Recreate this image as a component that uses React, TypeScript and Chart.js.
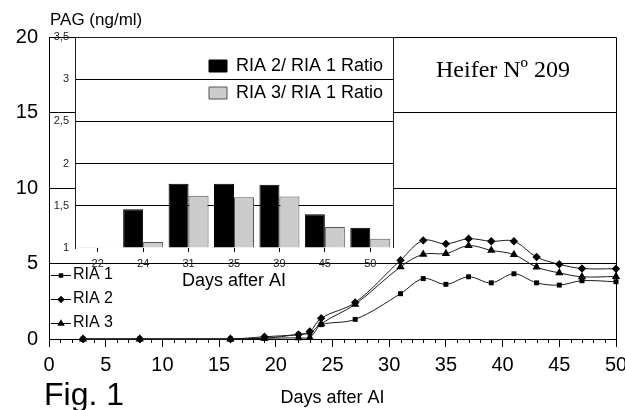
import React, { useEffect, useRef } from 'react';
import { Chart, registerables } from 'chart.js';
import { drawPoint } from 'chart.js/helpers';

Chart.register(...registerables);

const FONT = "'Liberation Sans', Arial, Helvetica, sans-serif";
const SERIF = "'Liberation Serif', 'Times New Roman', serif";

// ---- main chart data (PAG, ng/ml) ----
const days = [3, 8, 16, 19, 22, 23, 24, 27, 31, 33, 35, 37, 39, 41, 43, 45, 47, 50];
const ria1 = [0, 0, 0, 0.05, 0.3, 0.4, 0.95, 1.3, 3.0, 4.0, 3.62, 4.12, 3.72, 4.32, 3.72, 3.57, 3.86, 3.79];
const ria2 = [0, 0, 0, 0.15, 0.3, 0.5, 1.38, 2.42, 5.22, 6.53, 6.3, 6.64, 6.47, 6.47, 5.43, 4.95, 4.67, 4.65];
const ria3 = [0, 0, 0, 0.05, 0.08, 0.1, 1.0, 2.3, 4.78, 5.61, 5.66, 6.18, 5.87, 5.59, 4.76, 4.38, 4.12, 4.14];
const seriesLabels = ['RIA 1', 'RIA 2', 'RIA 3'];
const seriesMarkers = ['rect', 'rectRot', 'triangle'];
const xMin = 0, xMax = 50, xStep = 5;
const yMin = 0, yMax = 20, yStep = 5;

// ---- inset chart data (ratios) ----
const insetDays = ['22', '24', '31', '35', '39', '45', '50'];
const ratio21 = [1.01, 1.46, 1.76, 1.76, 1.75, 1.4, 1.24];
const ratio31 = [1.01, 1.07, 1.62, 1.6, 1.61, 1.25, 1.11];
const insetLabels = ['RIA 2/ RIA 1 Ratio', 'RIA 3/ RIA 1 Ratio'];
const insetYMin = 1, insetYMax = 3.5, insetYStep = 0.5;

function makeIcon(style: string, radius: number): HTMLCanvasElement {
  const c = document.createElement('canvas');
  c.width = 20;
  c.height = 12;
  const g = c.getContext('2d')!;
  g.strokeStyle = '#000';
  g.lineWidth = 1;
  g.beginPath();
  g.moveTo(0, 6.5);
  g.lineTo(20, 6.5);
  g.stroke();
  g.fillStyle = '#000';
  drawPoint(g as any, { pointStyle: style as any, radius, rotation: 0, borderWidth: 0 } as any, 10, 6.5);
  return c;
}

const placeLegend = (left: number, top: number, right: number, bottom: number) => ({
  id: 'placeLegend',
  afterLayout(chart: any) {
    const lg = chart.legend;
    if (!lg) return;
    lg.left = left;
    lg.top = top;
    lg.right = right;
    lg.bottom = bottom;
    lg.width = right - left;
    lg.height = bottom - top;
  },
});

const mainDecor = {
  id: 'mainDecor',
  afterDraw(chart: any) {
    const { ctx, chartArea } = chart;
    const { left, right, top, bottom } = chartArea;
    const x = chart.scales.x;
    ctx.save();
    ctx.strokeStyle = '#000';
    ctx.lineWidth = 1;
    ctx.beginPath();
    ctx.moveTo(left, Math.round(top) + 0.5);
    ctx.lineTo(Math.round(right) + 0.5, Math.round(top) + 0.5);
    ctx.lineTo(Math.round(right) + 0.5, bottom);
    ctx.stroke();
    ctx.beginPath();
    for (let v = xMin; v <= xMax; v++) {
      if (v % xStep === 0) continue;
      const px = Math.round(x.getPixelForValue(v)) + 0.5;
      ctx.moveTo(px, bottom);
      ctx.lineTo(px, bottom + 4);
    }
    ctx.stroke();
    ctx.restore();
  },
};

const insetDecor = {
  id: 'insetDecor',
  beforeDraw(chart: any) {
    const { ctx, chartArea } = chart;
    ctx.save();
    ctx.fillStyle = '#fff';
    ctx.fillRect(chartArea.left, chartArea.top, chartArea.right - chartArea.left, chartArea.bottom - chartArea.top);
    ctx.restore();
  },
  afterDraw(chart: any) {
    const { ctx, chartArea } = chart;
    const { left, right, top, bottom } = chartArea;
    ctx.save();
    ctx.strokeStyle = '#222';
    ctx.lineWidth = 1;
    ctx.beginPath();
    ctx.moveTo(left, Math.round(top) + 0.5);
    ctx.lineTo(Math.round(right) + 0.5, Math.round(top) + 0.5);
    ctx.lineTo(Math.round(right) + 0.5, bottom);
    ctx.stroke();
    ctx.restore();
  },
};

export default function App() {
  const mainRef = useRef<HTMLCanvasElement>(null);
  const insetRef = useRef<HTMLCanvasElement>(null);

  useEffect(() => {
    const seriesValues = [ria1, ria2, ria3];
    const radii = [3.5, 4.2, 4.8];
    const icons = seriesMarkers.map((m, i) => makeIcon(m, radii[i] * 0.9));

    const main = new Chart(mainRef.current!, {
      type: 'line',
      data: {
        datasets: seriesLabels.map((label, i) => ({
          label,
          data: days.map((d, j) => ({ x: d, y: seriesValues[i][j] })),
          borderColor: '#1a1a1a',
          borderWidth: 1,
          backgroundColor: '#000',
          pointBackgroundColor: '#000',
          pointBorderColor: '#000',
          pointBorderWidth: 0,
          pointStyle: seriesMarkers[i] as any,
          pointRadius: radii[i],
          tension: 0.35,
          clip: 8,
        })),
      },
      options: {
        animation: false,
        responsive: false,
        events: [],
        layout: { padding: { left: 0, top: 37, right: 9, bottom: 0 } },
        scales: {
          x: {
            type: 'linear',
            min: xMin,
            max: xMax,
            ticks: { stepSize: xStep, color: '#000', font: { size: 20, family: FONT }, padding: 6, maxRotation: 0, autoSkip: false },
            grid: { drawOnChartArea: false, drawTicks: true, tickLength: 8, color: '#000' },
            border: { color: '#000', width: 1 },
            title: { display: true, text: 'Days after AI', color: '#000', font: { size: 18, family: FONT }, padding: { top: 0, bottom: 1 } },
            afterFit: (s: any) => {
              s.height = 71;
              s.paddingRight = 0;
              s.paddingLeft = 0;
            },
          },
          y: {
            min: yMin,
            max: yMax,
            ticks: { stepSize: yStep, color: '#000', font: { size: 20, family: FONT }, padding: 11 },
            grid: { color: '#000', lineWidth: 1, drawTicks: false },
            border: { color: '#000', width: 1 },
            afterFit: (s: any) => {
              s.width = 49;
            },
          },
        },
        plugins: {
          tooltip: { enabled: false },
          legend: {
            display: true,
            position: 'chartArea',
            align: 'start',
            labels: {
              usePointStyle: true,
              boxWidth: 8,
              padding: 8,
              color: '#000',
              font: { size: 16, family: FONT },
              generateLabels: (chart: any) =>
                chart.data.datasets.map((ds: any, i: number) => ({
                  text: ds.label,
                  pointStyle: icons[i],
                  fillStyle: '#000',
                  strokeStyle: '#000',
                  lineWidth: 0,
                  hidden: false,
                  datasetIndex: i,
                  fontColor: '#000',
                })),
            },
          },
        },
      } as any,
      plugins: [mainDecor, placeLegend(49, 259, 200, 345)],
    });

    const inset = new Chart(insetRef.current!, {
      type: 'bar',
      data: {
        labels: insetDays,
        datasets: [
          {
            label: insetLabels[0],
            data: ratio21,
            backgroundColor: '#000',
            borderColor: '#000',
            borderWidth: 1,
            base: insetYMin,
            barPercentage: 1,
            categoryPercentage: 0.88,
          },
          {
            label: insetLabels[1],
            data: ratio31,
            backgroundColor: '#cccccc',
            borderColor: '#555',
            borderWidth: 1,
            base: insetYMin,
            barPercentage: 1,
            categoryPercentage: 0.88,
          },
        ],
      },
      options: {
        animation: false,
        responsive: false,
        events: [],
        layout: { padding: { left: 40, top: 37, right: 232, bottom: 118 } },
        scales: {
          x: {
            ticks: { color: '#222', font: { size: 11, family: FONT }, padding: 5, maxRotation: 0 },
            grid: { drawOnChartArea: false, drawTicks: true, tickLength: 4, offset: false, color: '#000' },
            border: { display: false },
            title: { display: true, text: 'Days after AI', color: '#000', font: { size: 18, family: FONT }, padding: { top: 0, bottom: 0 } },
            afterFit: (s: any) => {
              s.height = 44;
            },
          },
          y: {
            min: insetYMin,
            max: insetYMax,
            ticks: {
              stepSize: insetYStep,
              color: '#222',
              font: { size: 11, family: FONT },
              padding: 6,
              callback: (v: any) => String(v).replace('.', ','),
            },
            grid: {
              drawTicks: false,
              color: (c: any) => (c.tick && c.tick.value === insetYMin ? 'rgba(0,0,0,0)' : '#000'),
            },
            border: { color: '#222', width: 1 },
            afterFit: (s: any) => {
              s.width = 35;
            },
          },
        },
        plugins: {
          tooltip: { enabled: false },
          legend: {
            display: true,
            position: 'chartArea',
            align: 'start',
            labels: {
              boxWidth: 18,
              boxHeight: 12,
              padding: 9,
              color: '#000',
              font: { size: 18, family: FONT },
            },
          },
        },
      } as any,
      plugins: [insetDecor, placeLegend(200, 48, 393, 120)],
    });

    return () => {
      main.destroy();
      inset.destroy();
    };
  }, []);

  const textBase: React.CSSProperties = { position: 'absolute', whiteSpace: 'nowrap', color: '#000', margin: 0 };

  return (
    <div style={{ position: 'absolute', left: 0, top: 0, width: 625, height: 410, background: '#fff', overflow: 'hidden' }}>
      <canvas ref={mainRef} width={625} height={410} style={{ position: 'absolute', left: 0, top: 0 }} />
      <canvas ref={insetRef} width={625} height={410} style={{ position: 'absolute', left: 0, top: 0 }} />
      <div style={{ ...textBase, left: 50, top: 11, fontFamily: FONT, fontSize: 17, lineHeight: '17px' }}>PAG (ng/ml)</div>
      <div style={{ ...textBase, left: 436, top: 57, fontFamily: SERIF, fontSize: 24, lineHeight: '24px' }}>Heifer Nº 209</div>
      <div style={{ ...textBase, left: 44, top: 378, fontFamily: FONT, fontSize: 32, lineHeight: '32px' }}>Fig. 1</div>
    </div>
  );
}
